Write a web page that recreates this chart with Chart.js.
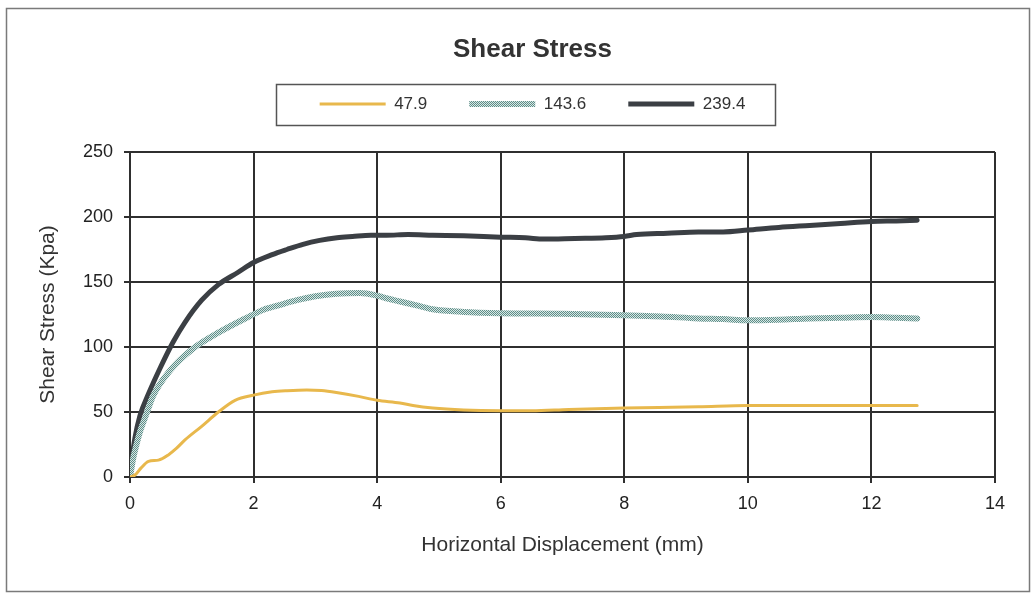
<!DOCTYPE html>
<html>
<head>
<meta charset="utf-8">
<script src="https://cdn.jsdelivr.net/npm/chart.js@4.4.0/dist/chart.umd.min.js"></script>
<style>
  html, body { margin: 0; padding: 0; background: #fff; }
  canvas { display: block; }
</style>
</head>
<body>
<canvas id="chart" width="1035" height="596"></canvas>
<script>
// readings, displacement in mm, stress in kPa
const seriesNames = ["47.9", "143.6", "239.4"];

const dispLow = [0, 0.08, 0.18, 0.3, 0.46, 0.62, 0.75, 0.89, 1.16, 1.43, 1.7, 2.0, 2.3, 2.54, 2.86, 3.1, 3.34, 3.7, 4.0, 4.37, 4.58, 4.9, 5.4, 6.0, 6.5, 7.1, 8.0, 9.2, 10.0, 11.0, 12.0, 12.74];
const stressLow = [0, 1.5, 7, 12, 13, 17, 22, 28.5, 39, 50, 59, 63, 65.5, 66.4, 67, 66.5, 65, 62, 59, 57, 55, 53, 51.5, 51, 51, 52, 53, 54, 55, 55, 55, 55];

const dispMid = [0, 0.05, 0.1, 0.17, 0.27, 0.37, 0.65, 1.0, 1.43, 1.91, 2.15, 2.4, 2.7, 3.0, 3.34, 3.72, 4.0, 4.15, 4.37, 4.64, 4.9, 5.4, 6.0, 7.0, 8.0, 8.6, 9.2, 9.6, 10.0, 10.5, 11.0, 11.5, 12.0, 12.4, 12.74];
const stressMid = [0, 14, 24, 36, 49, 62, 82, 98, 111, 123, 128.5, 132, 136, 139, 141, 141.5, 139.5, 137.5, 135, 132, 129, 127, 126, 125.5, 124.5, 123.5, 122, 121.5, 120.5, 121, 122, 122.5, 123, 122.5, 122];

const dispHigh = [0, 0.03, 0.08, 0.16, 0.3, 0.49, 0.7, 0.89, 1.16, 1.43, 1.75, 2.0, 2.3, 2.54, 2.8, 3.07, 3.35, 3.6, 3.9, 4.15, 4.5, 4.9, 5.4, 6.0, 6.4, 6.7, 7.2, 7.7, 8.0, 8.2, 8.7, 9.2, 9.6, 10.0, 10.5, 11.0, 11.5, 12.0, 12.4, 12.74];
const stressHigh = [0, 13, 30, 47, 64, 84, 104, 119, 136, 148, 157.5, 165, 171, 175, 179, 182, 184, 185, 186, 186, 186.5, 186, 185.5, 184.5, 184, 183, 183.5, 184, 185, 186.5, 187.5, 188.5, 188.5, 190, 192, 193.5, 195, 196.5, 197, 197.5];

function toPoints(xs, ys) {
  return xs.map((x, i) => ({ x: x, y: ys[i] }));
}

// speckled fill for the middle series
function dotPattern() {
  const c = document.createElement("canvas");
  c.width = 2;
  c.height = 2;
  const g = c.getContext("2d");
  g.fillStyle = "#d8e8e5";
  g.fillRect(0, 0, 2, 2);
  g.fillStyle = "#5e8d88";
  g.fillRect(0, 0, 1, 1);
  g.fillRect(1, 1, 1, 1);
  return g.createPattern(c, "repeat");
}

const gridColor = "#2f2f2f";
const font = "'Liberation Sans', Arial, sans-serif";

const pageFrame = {
  id: "pageFrame",
  beforeDraw(chart) {
    const ctx = chart.ctx;
    ctx.save();
    ctx.fillStyle = "#fff";
    ctx.fillRect(0, 0, chart.width, chart.height);
    ctx.strokeStyle = "#7a7a7a";
    ctx.lineWidth = 1.5;
    ctx.strokeRect(6.5, 8.5, 1023, 583);
    ctx.restore();
  },
};

// legend: extra room under it, and a box round the items
const legendFrame = {
  id: "legendFrame",
  beforeLayout(chart) {
    const lg = chart.legend;
    if (lg && !lg._extraRoom) {
      const fit = lg.fit;
      lg.fit = function () {
        fit.call(this);
        this.height += 29.5;
      };
      lg._extraRoom = true;
    }
  },
  afterDraw(chart) {
    const boxes = chart.legend.legendHitBoxes;
    if (!boxes || !boxes.length) return;
    const first = boxes[0];
    const last = boxes[boxes.length - 1];
    const cy = first.top + first.height / 2;
    const ctx = chart.ctx;
    ctx.save();
    ctx.strokeStyle = "#555";
    ctx.lineWidth = 1.5;
    const left = Math.round(first.left - 44) + 0.5;
    const right = Math.round(last.left + last.width + 30) + 0.5;
    ctx.strokeRect(left, Math.round(cy - 20) + 0.5, right - left, 41);
    ctx.restore();
  },
};

new Chart(document.getElementById("chart"), {
  type: "line",
  data: {
    datasets: [
      {
        label: seriesNames[0],
        data: toPoints(dispLow, stressLow),
        borderColor: "#e8b84c",
        borderWidth: 3,
      },
      {
        label: seriesNames[1],
        data: toPoints(dispMid, stressMid),
        borderColor: dotPattern(),
        borderWidth: 6,
      },
      {
        label: seriesNames[2],
        data: toPoints(dispHigh, stressHigh),
        borderColor: "#3b3f44",
        borderWidth: 5,
      },
    ],
  },
  options: {
    responsive: false,
    animation: false,
    layout: { padding: { left: 70, right: 40, top: 0, bottom: 30 } },
    elements: {
      point: { radius: 0 },
      line: { cubicInterpolationMode: "monotone", borderCapStyle: "round" },
    },
    plugins: {
      title: {
        display: true,
        text: "Shear Stress",
        color: "#333",
        font: { family: font, size: 26, weight: "bold" },
        padding: { top: 34.4, bottom: -12.1 },
      },
      legend: {
        labels: {
          usePointStyle: true,
          pointStyle: "line",
          pointStyleWidth: 66,
          boxHeight: 10,
          padding: 42,
          color: "#333",
          font: { family: font, size: 17 },
        },
      },
      tooltip: { enabled: false },
    },
    scales: {
      x: {
        type: "linear",
        min: 0,
        max: 14,
        ticks: { stepSize: 2, padding: 10, color: "#222", font: { family: font, size: 18 } },
        grid: { color: gridColor, lineWidth: 2, tickLength: 6, tickColor: gridColor },
        border: { color: gridColor, width: 2 },
        title: {
          display: true,
          text: "Horizontal Displacement (mm)",
          color: "#333",
          font: { family: font, size: 21 },
          padding: { top: 10, bottom: 8 },
        },
        afterFit(scale) { scale.height = 89; },
      },
      y: {
        min: 0,
        max: 250,
        ticks: { stepSize: 50, padding: 11, color: "#222", font: { family: font, size: 18 } },
        grid: { color: gridColor, lineWidth: 2, tickLength: 6, tickColor: gridColor },
        border: { color: gridColor, width: 2 },
        title: {
          display: true,
          text: "Shear Stress (Kpa)",
          color: "#333",
          font: { family: font, size: 21 },
          padding: { top: -34.6, bottom: 0 },
        },
        afterFit(scale) { scale.width = 60; },
      },
    },
  },
  plugins: [pageFrame, legendFrame],
});
</script>
</body>
</html>
